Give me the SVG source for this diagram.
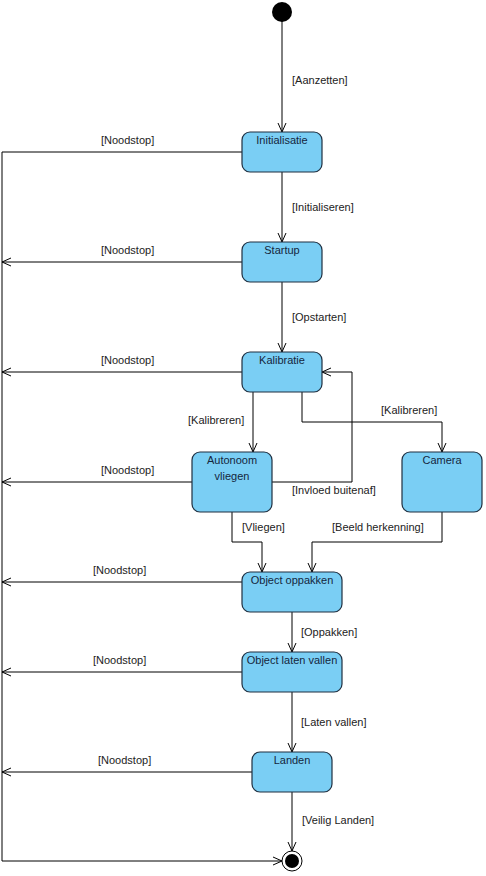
<svg xmlns="http://www.w3.org/2000/svg" width="486" height="876" viewBox="0 0 486 876">
<defs>
<marker id="arr" viewBox="0 0 10 10" refX="10" refY="5" markerWidth="10" markerHeight="10" markerUnits="userSpaceOnUse" orient="auto">
<path d="M1,1 L10,5 L1,9" fill="none" stroke="#000" stroke-width="1"/>
</marker>
<style>
.node rect{fill:#7ACEF4;stroke:#1f2f40;stroke-width:1.2}
.nt{font-family:"Liberation Sans",Arial,sans-serif;font-size:11px;fill:#15263d;text-anchor:middle}
.lbl{font-family:"Liberation Sans",Arial,sans-serif;font-size:11px;fill:#222}
.edges path{fill:none;stroke:#000;stroke-width:1}
</style>
</defs>
<rect width="486" height="876" fill="#fff"/>
<g class="edges">
<path d="M282,21 V132" marker-end="url(#arr)"/>
<path d="M282,172 V242" marker-end="url(#arr)"/>
<path d="M282,282 V352" marker-end="url(#arr)"/>
<path d="M253,392 V452" marker-end="url(#arr)"/>
<path d="M302,392 V422 H442 V452" marker-end="url(#arr)"/>
<path d="M272,482 H352 V372 H322" marker-end="url(#arr)"/>
<path d="M232,512 V542 H262 V572" marker-end="url(#arr)"/>
<path d="M442,512 V542 H312 V572" marker-end="url(#arr)"/>
<path d="M292,612 V652" marker-end="url(#arr)"/>
<path d="M292,692 V752" marker-end="url(#arr)"/>
<path d="M292,792 V851" marker-end="url(#arr)"/>
<path d="M242,152 H2 V861 H282" marker-end="url(#arr)"/>
<path d="M242,262 H2" marker-end="url(#arr)"/>
<path d="M242,372 H2" marker-end="url(#arr)"/>
<path d="M192,482 H2" marker-end="url(#arr)"/>
<path d="M242,582 H2" marker-end="url(#arr)"/>
<path d="M242,672 H2" marker-end="url(#arr)"/>
<path d="M252,772 H2" marker-end="url(#arr)"/>
</g>
<g class="labels">
<text class="lbl" x="292" y="84">[Aanzetten]</text>
<text class="lbl" x="292" y="211">[Initialiseren]</text>
<text class="lbl" x="292" y="321">[Opstarten]</text>
<text class="lbl" x="188" y="424">[Kalibreren]</text>
<text class="lbl" x="381" y="414">[Kalibreren]</text>
<text class="lbl" x="292" y="494">[Invloed buitenaf]</text>
<text class="lbl" x="242" y="531">[Vliegen]</text>
<text class="lbl" x="332" y="531">[Beeld herkenning]</text>
<text class="lbl" x="301" y="636">[Oppakken]</text>
<text class="lbl" x="301" y="726">[Laten vallen]</text>
<text class="lbl" x="302" y="824">[Veilig Landen]</text>
<text class="lbl" x="101" y="144">[Noodstop]</text>
<text class="lbl" x="101" y="254">[Noodstop]</text>
<text class="lbl" x="101" y="364">[Noodstop]</text>
<text class="lbl" x="101" y="474">[Noodstop]</text>
<text class="lbl" x="93" y="574">[Noodstop]</text>
<text class="lbl" x="93" y="664">[Noodstop]</text>
<text class="lbl" x="98" y="764">[Noodstop]</text>
</g>
<g id="start"><circle cx="282" cy="12" r="10" fill="#000"/></g>
<g id="initialisatie" class="node"><rect x="242" y="132" width="80" height="40" rx="8"/><text class="nt" x="282" y="144">Initialisatie</text></g>
<g id="startup" class="node"><rect x="242" y="242" width="80" height="40" rx="8"/><text class="nt" x="282" y="254">Startup</text></g>
<g id="kalibratie" class="node"><rect x="242" y="352" width="80" height="40" rx="8"/><text class="nt" x="282" y="364">Kalibratie</text></g>
<g id="autonoom" class="node"><rect x="192" y="452" width="80" height="60" rx="8"/><text class="nt" x="232" y="464">Autonoom</text><text class="nt" x="232" y="480">vliegen</text></g>
<g id="camera" class="node"><rect x="402" y="452" width="80" height="60" rx="8"/><text class="nt" x="442" y="464">Camera</text></g>
<g id="oppakken" class="node"><rect x="242" y="572" width="100" height="40" rx="8"/><text class="nt" x="292" y="584">Object oppakken</text></g>
<g id="vallen" class="node"><rect x="242" y="652" width="100" height="40" rx="8"/><text class="nt" x="292" y="664">Object laten vallen</text></g>
<g id="landen" class="node"><rect x="252" y="752" width="80" height="40" rx="8"/><text class="nt" x="292" y="764">Landen</text></g>
<g id="end"><circle cx="292" cy="861" r="10" fill="#fff" stroke="#000" stroke-width="1"/><circle cx="292" cy="861" r="7" fill="#000"/></g>
</svg>
